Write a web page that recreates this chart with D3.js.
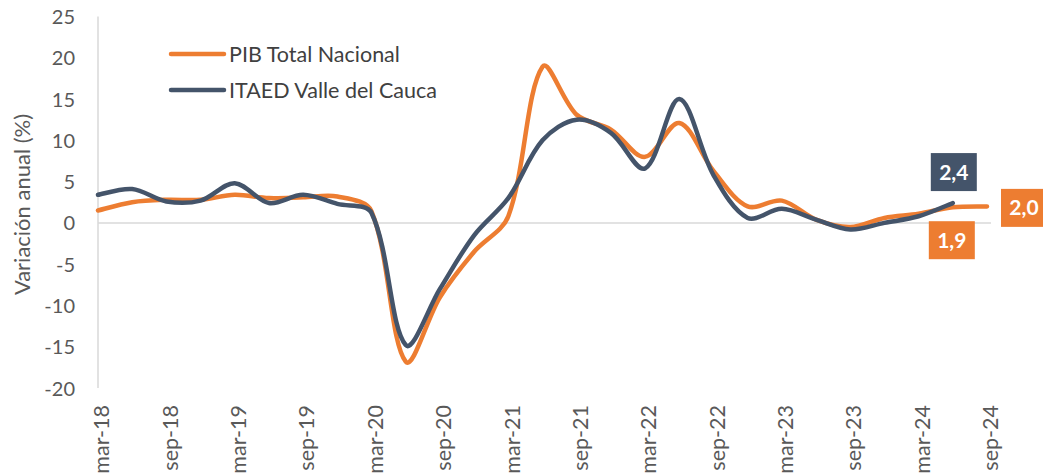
<!DOCTYPE html>
<html>
<head>
<meta charset="utf-8">
<script src="https://cdn.jsdelivr.net/npm/d3@7"></script>
<style>
  html, body { margin: 0; padding: 0; background: #ffffff; }
  svg { display: block; }
  text { font-family: Lato, "Open Sans", sans-serif; }
</style>
</head>
<body>
<svg id="chart" width="1043" height="475"></svg>
<script>
// Quarterly categories, mar-18 .. sep-24
const quarters = [
  "mar-18","jun-18","sep-18","dic-18",
  "mar-19","jun-19","sep-19","dic-19",
  "mar-20","jun-20","sep-20","dic-20",
  "mar-21","jun-21","sep-21","dic-21",
  "mar-22","jun-22","sep-22","dic-22",
  "mar-23","jun-23","sep-23","dic-23",
  "mar-24","jun-24","sep-24"
];
// Axis labels shown every second quarter
const xTickLabels = ["mar-18","sep-18","mar-19","sep-19","mar-20","sep-20","mar-21",
  "sep-21","mar-22","sep-22","mar-23","sep-23","mar-24","sep-24"];
const yTicks = [25, 20, 15, 10, 5, 0, -5, -10, -15, -20];

// Annual growth (%)
const pibTotalNacional = [
  1.5, 2.5, 2.8, 2.8,
  3.4, 3.0, 3.1, 3.2,
  1.4, -16.8, -9.0, -3.5,
  0.8, 18.9, 13.1, 11.3,
  8.0, 12.1, 6.3, 2.0,
  2.7, 0.4, -0.5, 0.6,
  1.1, 1.9, 2.0
];
const itaedValle = [
  3.4, 4.1, 2.6, 2.7,
  4.8, 2.4, 3.4, 2.3,
  1.2, -14.8, -8.0, -1.5,
  3.0, 10.0, 12.5, 10.9,
  6.6, 15.0, 5.8, 0.6,
  1.7, 0.4, -0.8, 0.0,
  0.8, 2.4
];

const seriesNames = ["PIB Total Nacional", "ITAED Valle del Cauca"];
const seriesColors = ["#ED7D31", "#44546A"];

const svg = d3.select("#chart");

const x = d3.scalePoint().domain(quarters).range([98, 987]);
const y = d3.scaleLinear().domain([-20, 25]).range([388, 16.5]);

const gridColor = "#d9d9d9";
const textColor = "#595959";

// Smoothing curve: cubic Bezier through every point, tangent parallel to the
// neighbouring chord, with handle lengths weighted by the adjacent segment lengths.
function smoothCurve(context) {
  let pts = [];
  return {
    areaStart() {}, areaEnd() {},
    lineStart() { pts = []; },
    point(px, py) { pts.push([+px, +py]); },
    lineEnd() {
      const n = pts.length;
      if (!n) return;
      context.moveTo(pts[0][0], pts[0][1]);
      if (n === 1) return;
      const dist = (a, b) => Math.hypot(b[0] - a[0], b[1] - a[1]);
      const outH = [], inH = [];
      for (let i = 0; i < n; i++) {
        const prev = pts[Math.max(0, i - 1)];
        const next = pts[Math.min(n - 1, i + 1)];
        const tx = (next[0] - prev[0]) / 6, ty = (next[1] - prev[1]) / 6;
        const dIn = i > 0 ? dist(pts[i - 1], pts[i]) : 0;
        const dOut = i < n - 1 ? dist(pts[i], pts[i + 1]) : 0;
        let wIn = 1, wOut = 1;
        if (i > 0 && i < n - 1 && dIn + dOut > 0) {
          wIn = 2 * dIn / (dIn + dOut);
          wOut = 2 * dOut / (dIn + dOut);
        }
        outH.push([pts[i][0] + tx * wOut, pts[i][1] + ty * wOut]);
        inH.push([pts[i][0] - tx * wIn, pts[i][1] - ty * wIn]);
      }
      for (let i = 0; i < n - 1; i++) {
        context.bezierCurveTo(outH[i][0], outH[i][1], inH[i + 1][0], inH[i + 1][1],
          pts[i + 1][0], pts[i + 1][1]);
      }
    }
  };
}

// Value axis line
svg.append("line")
  .attr("x1", 98).attr("x2", 98)
  .attr("y1", y(25)).attr("y2", y(-20))
  .attr("stroke", gridColor).attr("stroke-width", 1.5);

// Category axis crossing at zero
svg.append("line")
  .attr("x1", 98).attr("x2", 991)
  .attr("y1", y(0)).attr("y2", y(0))
  .attr("stroke", gridColor).attr("stroke-width", 1.5);

// Y tick labels
const yAxis = d3.axisLeft(y).tickValues(yTicks).tickSize(0).tickPadding(0)
  .tickFormat(d => d3.format("d")(d).replace("−", "-"));
const gy = svg.append("g").attr("transform", "translate(75,0)").call(yAxis);
gy.select(".domain").remove();
gy.selectAll("text")
  .attr("fill", textColor)
  .style("font-family", "Lato, sans-serif")
  .style("font-size", "20px")
  .attr("dy", "0.35em");

// X tick labels (rotated)
const xAxis = d3.axisBottom(x).tickValues(xTickLabels).tickSize(0).tickPadding(0);
const gx = svg.append("g").attr("transform", "translate(0,405)").call(xAxis);
gx.select(".domain").remove();
gx.selectAll("text")
  .attr("fill", textColor)
  .style("font-family", "Lato, sans-serif")
  .style("font-size", "21.5px")
  .attr("text-anchor", "end")
  .attr("transform", "rotate(-90)")
  .attr("x", 0)
  .attr("y", 0)
  .attr("dy", "0.5em");

// Y axis title
svg.append("text")
  .attr("transform", `translate(30,${(112 + 297) / 2}) rotate(-90)`)
  .attr("text-anchor", "middle")
  .attr("fill", textColor)
  .style("font-size", "22px")
  .text("Variación anual (%)");

// Smoothed lines
const line = d3.line()
  .x((d, i) => x(quarters[i]))
  .y(d => y(d))
  .curve(smoothCurve);

const allSeries = [pibTotalNacional, itaedValle];
allSeries.forEach((vals, k) => {
  svg.append("path")
    .datum(vals)
    .attr("d", line)
    .attr("fill", "none")
    .attr("stroke", seriesColors[k])
    .attr("stroke-width", 4.5)
    .attr("stroke-linecap", "round")
    .attr("stroke-linejoin", "round");
});

// Legend
const legend = svg.append("g");
seriesNames.forEach((name, k) => {
  const ly = 54 + k * 36;
  legend.append("line")
    .attr("x1", 171).attr("x2", 224)
    .attr("y1", ly).attr("y2", ly)
    .attr("stroke", seriesColors[k])
    .attr("stroke-width", 4.5)
    .attr("stroke-linecap", "round");
  legend.append("text")
    .attr("x", 229).attr("y", ly)
    .attr("dy", "0.36em")
    .attr("fill", "#404040")
    .style("font-size", "21.5px")
    .text(name);
});

// Value callouts
const fmt = v => d3.format(".1f")(v).replace(".", ",");
const boxW = 46, boxH = 38;
function callout(cx, cy, value, color) {
  svg.append("rect")
    .attr("x", cx - boxW / 2).attr("y", cy - boxH / 2)
    .attr("width", boxW).attr("height", boxH)
    .attr("fill", color);
  svg.append("text")
    .attr("x", cx).attr("y", cy)
    .attr("dy", "0.36em")
    .attr("text-anchor", "middle")
    .attr("fill", "#ffffff")
    .style("font-weight", "bold")
    .style("font-size", "21px")
    .text(fmt(value));
}

const nI = itaedValle.length - 1;
const nP = pibTotalNacional.length - 1;
// ITAED last value, above the point
callout(x(quarters[nI]) + 1, y(itaedValle[nI]) - 12 - boxH / 2, itaedValle[nI], seriesColors[1]);
// PIB second-to-last value, below the point
callout(x(quarters[nP - 1]) - 1, y(pibTotalNacional[nP - 1]) + 14 + boxH / 2, pibTotalNacional[nP - 1], seriesColors[0]);
// PIB last value, right of the point
callout(x(quarters[nP]) + 14 + boxW / 2, y(pibTotalNacional[nP]) + 1.5, pibTotalNacional[nP], seriesColors[0]);
</script>
</body>
</html>
